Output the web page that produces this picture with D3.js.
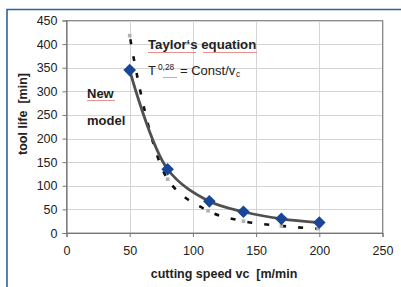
<!DOCTYPE html>
<html><head><meta charset="utf-8">
<script src="https://cdn.jsdelivr.net/npm/d3@7/dist/d3.min.js"></script>
<style>body{margin:0;background:#fff}svg{display:block;font-family:"Liberation Sans",Arial,sans-serif}text{white-space:pre}</style>
</head><body>
<svg id="c" width="401" height="287"></svg>
<script>
const xTicks = [0, 50, 100, 150, 200, 250];
const yTicks = [0, 50, 100, 150, 200, 250, 300, 350, 400, 450];
const modelSpeed = [50, 80, 113, 140, 170, 200];
const modelLife = [345, 135, 67, 45, 30, 22];
const taylorSpeed = [50, 80, 112, 140, 170, 199];
const taylorLife = [418, 114, 47, 25, 15, 9];

const svg = d3.select("#c");
const L = 66.5, R = 382.5, T = 20.5, B = 233;
const x = d3.scaleLinear().domain([0, 250]).range([L, R]);
const y = d3.scaleLinear().domain([0, 450]).range([B, T]);

// frame
svg.append("path").attr("d", "M7,287 V9.5 H401").attr("fill", "none")
  .attr("stroke", "#2f5fa6").attr("stroke-width", 1.6);

// grid
svg.append("g").selectAll("line").data(yTicks.slice(1)).join("line")
  .attr("x1", L).attr("x2", R).attr("y1", d => Math.round(y(d)) + 0.5).attr("y2", d => Math.round(y(d)) + 0.5)
  .attr("stroke", "#d4d4d4");
svg.append("g").selectAll("line").data(xTicks.slice(1)).join("line")
  .attr("y1", T).attr("y2", B).attr("x1", d => Math.round(x(d)) + 0.5).attr("x2", d => Math.round(x(d)) + 0.5)
  .attr("stroke", "#d4d4d4");
svg.append("rect").attr("x", L).attr("y", T).attr("width", R - L).attr("height", B - T)
  .attr("fill", "none").attr("stroke", "#8a8a8a");

// axes
const xa = svg.append("g").attr("transform", `translate(0,${B})`)
  .call(d3.axisBottom(x).tickValues(xTicks).tickSize(4).tickPadding(9));
const ya = svg.append("g").attr("transform", `translate(${L},0)`)
  .call(d3.axisLeft(y).tickValues(yTicks).tickSize(4).tickPadding(5));
[xa, ya].forEach(a => {
  a.select(".domain").attr("stroke", "#777").attr("stroke-width", 1.2);
  a.selectAll(".tick line").attr("stroke", "#777");
  a.selectAll("text").attr("font-size", 12.5).attr("fill", "#222")
    .attr("font-family", "'Liberation Sans',Arial,sans-serif");
});

// axis titles
svg.append("text").attr("x", 224).attr("y", 278).attr("text-anchor", "middle")
  .attr("font-size", 12.5).attr("font-weight", "bold").attr("fill", "#222")
  .text("cutting speed vc  [m/min");
svg.append("text").attr("transform", "translate(27,114) rotate(-90)").attr("text-anchor", "middle")
  .attr("font-size", 12.5).attr("font-weight", "bold").attr("fill", "#222")
  .text("tool life  [min]");

// taylor dashed
const tData = taylorSpeed.map((s, i) => [s, taylorLife[i]]);
svg.append("path").datum(tData)
  .attr("d", d3.line().x(d => x(d[0])).y(d => y(d[1])).curve(d3.curveCatmullRom))
  .attr("fill", "none").attr("stroke", "#111").attr("stroke-width", 2.6).attr("stroke-dasharray", "5,12")
  .attr("stroke-dashoffset", -4);
svg.append("g").selectAll("rect").data(tData).join("rect")
  .attr("x", d => x(d[0]) - 1.8).attr("y", d => y(d[1]) - 1.8).attr("width", 3.6).attr("height", 3.6)
  .attr("fill", "#b0b0b0");

// model line
const mData = modelSpeed.map((s, i) => [s, modelLife[i]]);
svg.append("path").datum(mData)
  .attr("d", d3.line().x(d => x(d[0])).y(d => y(d[1])).curve(d3.curveCatmullRom))
  .attr("fill", "none").attr("stroke", "#505050").attr("stroke-width", 2.8);
svg.append("g").selectAll("path").data(mData).join("path")
  .attr("d", d => { const cx = x(d[0]), cy = y(d[1]); return `M${cx},${cy-6.3}L${cx+6.3},${cy}L${cx},${cy+6.3}L${cx-6.3},${cy}Z`; })
  .attr("fill", "#1a4697");

// annotations
function wavy(x0, x1, yy, color) {
  let p = `M${x0},${yy}`;
  for (let xx = x0; xx < x1; xx += 2) p += `L${xx + 1},${yy + 1}L${xx + 2},${yy}`;
  svg.append("path").attr("d", p).attr("fill", "none").attr("stroke", color).attr("stroke-width", 0.7);
}
svg.append("text").attr("x", 148).attr("y", 49).attr("font-size", 13.2).attr("font-weight", "bold")
  .attr("fill", "#222").text("Taylor\u2018s equation");
wavy(148, 196, 52, "#e06060");
wavy(203, 257, 52, "#e06060");
svg.append("text").attr("x", 148).attr("y", 75).attr("font-size", 13).attr("fill", "#222").text("T");
svg.append("text").attr("x", 158).attr("y", 70).attr("font-size", 8.3).attr("fill", "#222").text("0,28");
svg.append("text").attr("x", 180).attr("y", 75).attr("font-size", 13).attr("fill", "#222").text("= Const/v");
svg.append("text").attr("x", 236).attr("y", 76.5).attr("font-size", 8.3).attr("fill", "#222").text("c");
wavy(163, 176, 77, "#70b070");
svg.append("text").attr("x", 87).attr("y", 98).attr("font-size", 13).attr("font-weight", "bold")
  .attr("fill", "#222").text("New");
wavy(87, 115, 100, "#e06060");
svg.append("text").attr("x", 87).attr("y", 125).attr("font-size", 13).attr("font-weight", "bold")
  .attr("fill", "#222").text("model");
</script>
</body></html>
